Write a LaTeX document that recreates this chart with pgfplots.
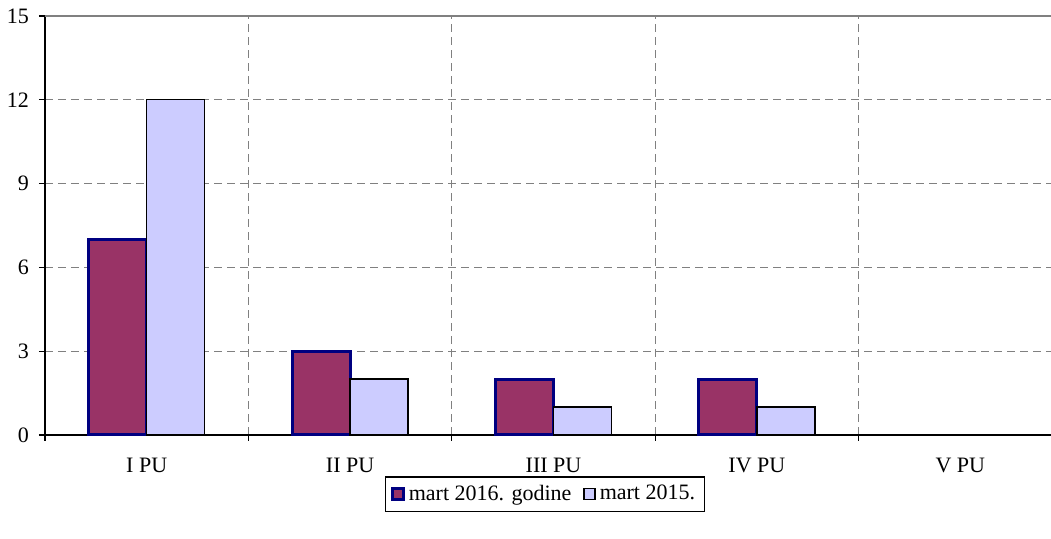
\documentclass[border=0pt]{standalone}
\usepackage{fontspec}
\setmainfont{Liberation Serif}
\usepackage{pgfplots}
\pgfplotsset{compat=1.18}
\definecolor{maroonbar}{RGB}{153,51,102}
\definecolor{navyedge}{RGB}{0,0,128}
\definecolor{lavbar}{RGB}{204,204,255}

\begin{document}
\begin{tikzpicture}
% 1 px of the reference = 0.5pt
\useasboundingbox (-22.5pt,-52pt) rectangle (503pt,217.5pt);
\begin{axis}[
    at={(0pt,0pt)}, anchor=south west,
    scale only axis,
    width=503pt, height=209.5pt,
    xmin=-0.5, xmax=4.446,
    ymin=0, ymax=15,
    ytick={0,3,...,15},
    xtick={0,...,4},
    xticklabels={I PU, II PU, III PU, IV PU, V PU},
    minor xtick={-0.5,0.5,1.5,2.5,3.5},
    major x tick style={draw=none},
    axis x line*=bottom,
    axis y line*=left,
    axis line style={black, line width=1pt},
    tick align=outside,
    major tick length=3pt,
    minor tick length=3pt,
    every tick/.style={black, line width=0.6pt},
    ymajorgrids=true,
    xminorgrids=true,
    major grid style={gray, dashed, dash pattern=on 4pt off 2.5pt, line width=0.5pt},
    minor grid style={gray, dashed, dash pattern=on 4pt off 2.5pt, line width=0.5pt},
    /pgf/number format/assume math mode=true,
    tick label style={font=\fontsize{11}{13}\selectfont},
    xticklabel style={yshift=-5pt},
    yticklabel style={xshift=-1.5pt},
    ybar=0pt,
    bar width=29pt,
    legend style={at={(0.497,-0.141)}, anchor=center,
                  draw=black, line width=0.6pt,
                  font=\fontsize{11}{13}\selectfont,
                  inner xsep=2.5pt, inner ysep=2pt,
                  /tikz/every even column/.append style={column sep=4pt}},
    legend columns=2,
    legend image code/.code={\draw[#1] (-1.5pt,-2.8pt) rectangle (4pt,2.8pt);},
    clip=false,
]
\addplot[fill=maroonbar, draw=navyedge, line width=1.5pt] coordinates {
    (0, 7) (1, 3) (2, 2) (3, 2)
};
\addlegendentry{mart 2016. godine}
\addplot[fill=lavbar, draw=black, line width=0.7pt] coordinates {
    (0, 12) (1, 2) (2, 1) (3, 1)
};
\addlegendentry{mart 2015.}
\draw[gray, line width=1pt] (rel axis cs:0,1) -- (rel axis cs:1,1);
\end{axis}
\end{tikzpicture}
\end{document}
